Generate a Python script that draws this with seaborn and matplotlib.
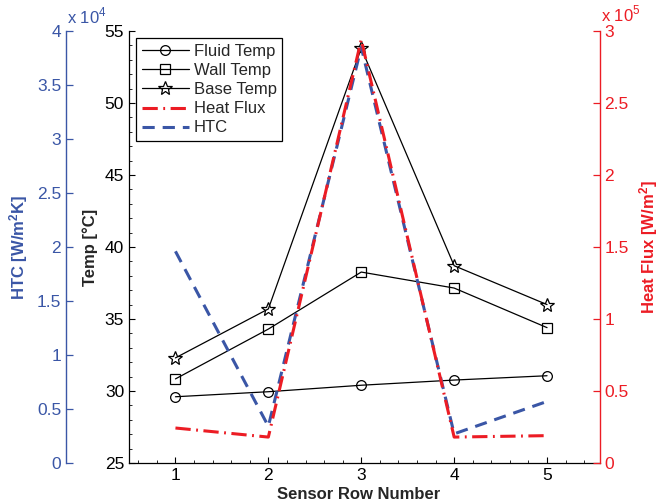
import matplotlib
matplotlib.use("Agg")
import matplotlib.pyplot as plt
import numpy as np
import seaborn as sns
from matplotlib.ticker import FuncFormatter, MultipleLocator

# Data
rows = [1, 2, 3, 4, 5]
fluid_temp = [29.6, 29.95, 30.4, 30.76, 31.06]
wall_temp = [30.84, 34.3, 38.26, 37.15, 34.4]
base_temp = [32.3, 35.7, 53.8, 38.7, 36.0]
heat_flux = [24300, 18000, 294000, 18000, 19000]
htc = [19600, 3400, 38500, 2700, 5700]

BLUE = "#3a56a6"
RED = "#ec1c24"

sns.set_style("ticks")
plt.rcParams["font.family"] = ["Liberation Sans", "DejaVu Sans"]
plt.rcParams["mathtext.fontset"] = "custom"
plt.rcParams["mathtext.rm"] = "Liberation Sans"
plt.rcParams["mathtext.bf"] = "Liberation Sans:bold"

fig = plt.figure(figsize=(6.62, 5.04), dpi=100)
fig.patch.set_facecolor("white")

rect = [129 / 662, 1 - 463 / 504, 471 / 662, 432 / 504]
ax = fig.add_axes(rect)
ax_h = fig.add_axes(rect)
ax_q = fig.add_axes(rect)
for a in (ax_h, ax_q):
    a.patch.set_visible(False)

# temperatures
sns.lineplot(x=rows, y=fluid_temp, ax=ax, color="k", linewidth=0.9, marker="o",
             markersize=7, markerfacecolor="none", markeredgecolor="k",
             markeredgewidth=0.9, label="Fluid Temp", legend=False)
sns.lineplot(x=rows, y=wall_temp, ax=ax, color="k", linewidth=0.9, marker="s",
             markersize=7, markerfacecolor="none", markeredgecolor="k",
             markeredgewidth=0.9, label="Wall Temp", legend=False)
sns.lineplot(x=rows, y=base_temp, ax=ax, color="k", linewidth=0.9, marker="*",
             markersize=10, markerfacecolor="none", markeredgecolor="k",
             markeredgewidth=0.9, label="Base Temp", legend=False)

# HTC (outer left axis)
sns.lineplot(x=rows, y=htc, ax=ax_h, color=BLUE, linewidth=2.2,
             linestyle=(0, (4, 2.6)), label="HTC", legend=False)

# Heat flux (right axis)
sns.lineplot(x=rows, y=heat_flux, ax=ax_q, color=RED, linewidth=2.2,
             linestyle=(0, (5, 1.8, 0.6, 1.8)), label="Heat Flux", legend=False)

for a in (ax, ax_h, ax_q):
    a.set_xlim(0.5, 5.57)
    a.grid(False)

# main temperature axis
ax.set_ylim(25, 55)
ax.set_xticks(rows)
ax.xaxis.set_minor_locator(MultipleLocator(0.2))
ax.yaxis.set_minor_locator(MultipleLocator(1))
ax.tick_params(axis="both", which="major", direction="in", length=4.5,
               width=0.8, labelsize=12.5, colors="k")
ax.tick_params(axis="both", which="minor", direction="in", length=2.5, width=0.7)
ax.spines["top"].set_visible(False)
ax.spines["right"].set_visible(False)
for s in ("left", "bottom"):
    ax.spines[s].set_linewidth(0.9)
    ax.spines[s].set_color("k")
ax.set_xlabel("Sensor Row Number", fontsize=12, fontweight="bold")
ax.xaxis.set_label_coords(0.487, -0.055)
ax.set_ylabel("Temp [°C]", fontsize=12, fontweight="bold")
ax.yaxis.set_label_coords(-0.066, 0.5)

# HTC axis
ax_h.set_ylim(0, 40000)
ax_h.yaxis.set_major_locator(MultipleLocator(5000))
ax_h.yaxis.set_major_formatter(FuncFormatter(lambda v, p: f"{v / 1e4:g}"))
for s in ("top", "right", "bottom"):
    ax_h.spines[s].set_visible(False)
ax_h.spines["left"].set_position(("outward", 63 * 72 / 100))
ax_h.spines["left"].set_color(BLUE)
ax_h.spines["left"].set_linewidth(1.0)
ax_h.tick_params(axis="y", direction="in", length=5, width=0.9, colors=BLUE,
                 labelsize=12.5, labelcolor=BLUE)
ax_h.tick_params(axis="x", bottom=False, labelbottom=False)
ax_h.set_ylabel(r"HTC [W/m$\mathbf{^2}$K]", fontsize=12, fontweight="bold",
                color=BLUE)
ax_h.yaxis.set_label_coords(-0.210, 0.5)
fig.text(67 / 662, 1 - 16 / 504, r"x 10$^4$", color=BLUE, fontsize=12,
         ha="left", va="center")

# heat flux axis
ax_q.set_ylim(0, 300000)
ax_q.yaxis.set_major_locator(MultipleLocator(50000))
ax_q.yaxis.set_major_formatter(FuncFormatter(lambda v, p: f"{v / 1e5:g}"))
ax_q.yaxis.tick_right()
ax_q.yaxis.set_label_position("right")
for s in ("top", "left", "bottom"):
    ax_q.spines[s].set_visible(False)
ax_q.spines["right"].set_color(RED)
ax_q.spines["right"].set_linewidth(1.0)
ax_q.tick_params(axis="y", direction="in", length=5, width=0.9, colors=RED,
                 labelsize=12.5, labelcolor=RED, pad=3)
ax_q.tick_params(axis="x", bottom=False, labelbottom=False)
ax_q.set_ylabel(r"Heat Flux [W/m$\mathbf{^2}$]", fontsize=12, fontweight="bold",
                color=RED)
ax_q.yaxis.set_label_coords(1.079, 0.5)
fig.text(601 / 662, 1 - 14 / 504, r"x 10$^5$", color=RED, fontsize=12,
         ha="left", va="center")

# legend combining all axes
handles, labels = [], []
for a in (ax, ax_q, ax_h):
    h, l = a.get_legend_handles_labels()
    handles += h
    labels += l
leg = ax_q.legend(handles, labels, loc="upper left",
                  bbox_to_anchor=(7 / 471, 1 - 7 / 432),
                  fontsize=12, frameon=True, fancybox=False, framealpha=1,
                  edgecolor="k", handlelength=2.8, labelspacing=0.25,
                  borderpad=0.35, handletextpad=0.3, borderaxespad=0)
leg.get_frame().set_linewidth(0.9)

fig.savefig("out.png", dpi=100, facecolor="white")
